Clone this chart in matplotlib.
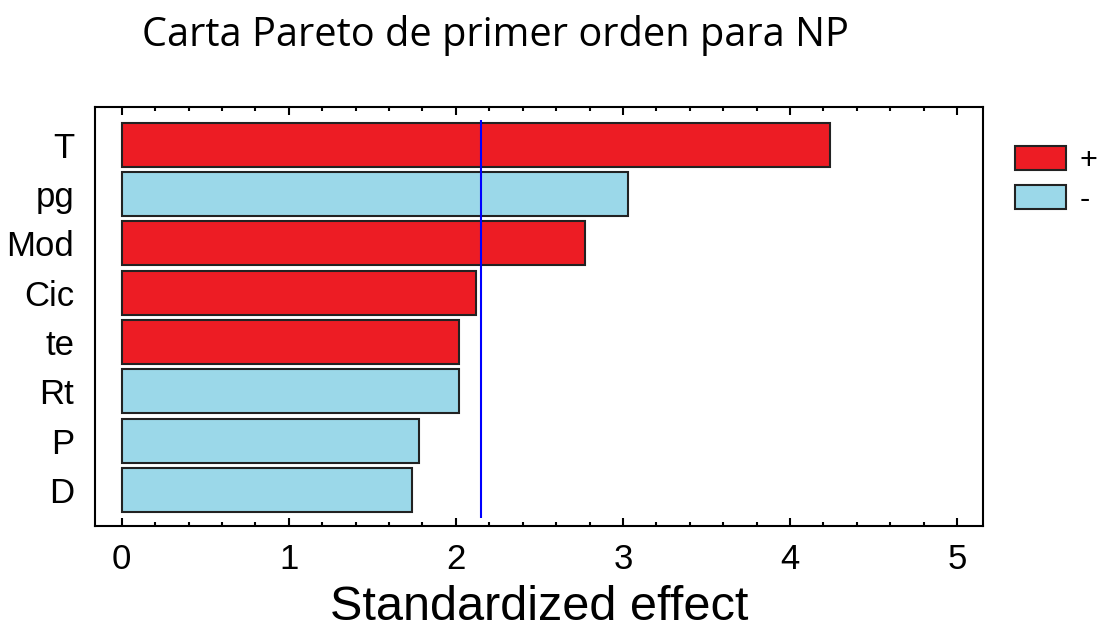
import matplotlib.pyplot as plt
from matplotlib.patches import Patch
from matplotlib.ticker import MultipleLocator

# effects, in the order they are drawn from top to bottom
factors = ['T', 'pg', 'Mod', 'Cic', 'te', 'Rt', 'P', 'D']
effects = [4.24, 3.03, 2.77, 2.12, 2.02, 2.02, 1.78, 1.74]
signs = ['+', '-', '+', '+', '+', '-', '-', '-']
critical = 2.15

red = '#ED1C24'
blue = '#9BD8E9'
colors = [red if s == '+' else blue for s in signs]

fig = plt.figure(figsize=(11.05, 6.32), dpi=100)
ax = fig.add_axes([95 / 1105, 1 - 526 / 632, (983 - 95) / 1105, (526 - 107) / 632])

y = list(range(len(factors)))
ax.barh(y, effects, height=0.89, color=colors, edgecolor='#222222', linewidth=1.5)
ax.vlines(critical, -0.5, 7.57, color='blue', linewidth=1.5)

ax.set_xlim(-0.16, 5.155)
ax.set_ylim(7.73, -0.765)
ax.set_yticks(y)
ax.set_yticklabels(factors, fontsize=25, family='Liberation Sans')
ax.tick_params(axis='y', length=0, pad=15)

ax.xaxis.set_major_locator(MultipleLocator(1))
ax.xaxis.set_minor_locator(MultipleLocator(0.2))
ax.tick_params(axis='x', which='both', direction='in', top=True, bottom=True,
               labelsize=25, pad=12, width=1.5)
ax.tick_params(axis='x', which='major', length=6)
ax.tick_params(axis='x', which='minor', length=3)
for lbl in ax.get_xticklabels():
    lbl.set_family('Liberation Sans')

for s in ax.spines.values():
    s.set_linewidth(1.5)

ax.set_xlabel('Standardized effect', fontsize=35, family='Liberation Sans', labelpad=7)
fig.text(495 / 1105, 1 - 36 / 632, 'Carta Pareto de primer orden para NP',
         fontsize=28.6, family='Open Sans', ha='center', va='center')

handles = [Patch(facecolor=red, edgecolor='#222222', linewidth=1.5, label='+'),
           Patch(facecolor=blue, edgecolor='#222222', linewidth=1.5, label='-')]
fig.legend(handles=handles, loc='upper left', bbox_to_anchor=(987 / 1105, 1 - 118 / 632),
           frameon=False, handlelength=1.67, handleheight=0.82,
           labelspacing=0.3, handletextpad=0.45, prop={'family': 'Liberation Sans', 'size': 22})

fig.savefig('out.png', dpi=100)
